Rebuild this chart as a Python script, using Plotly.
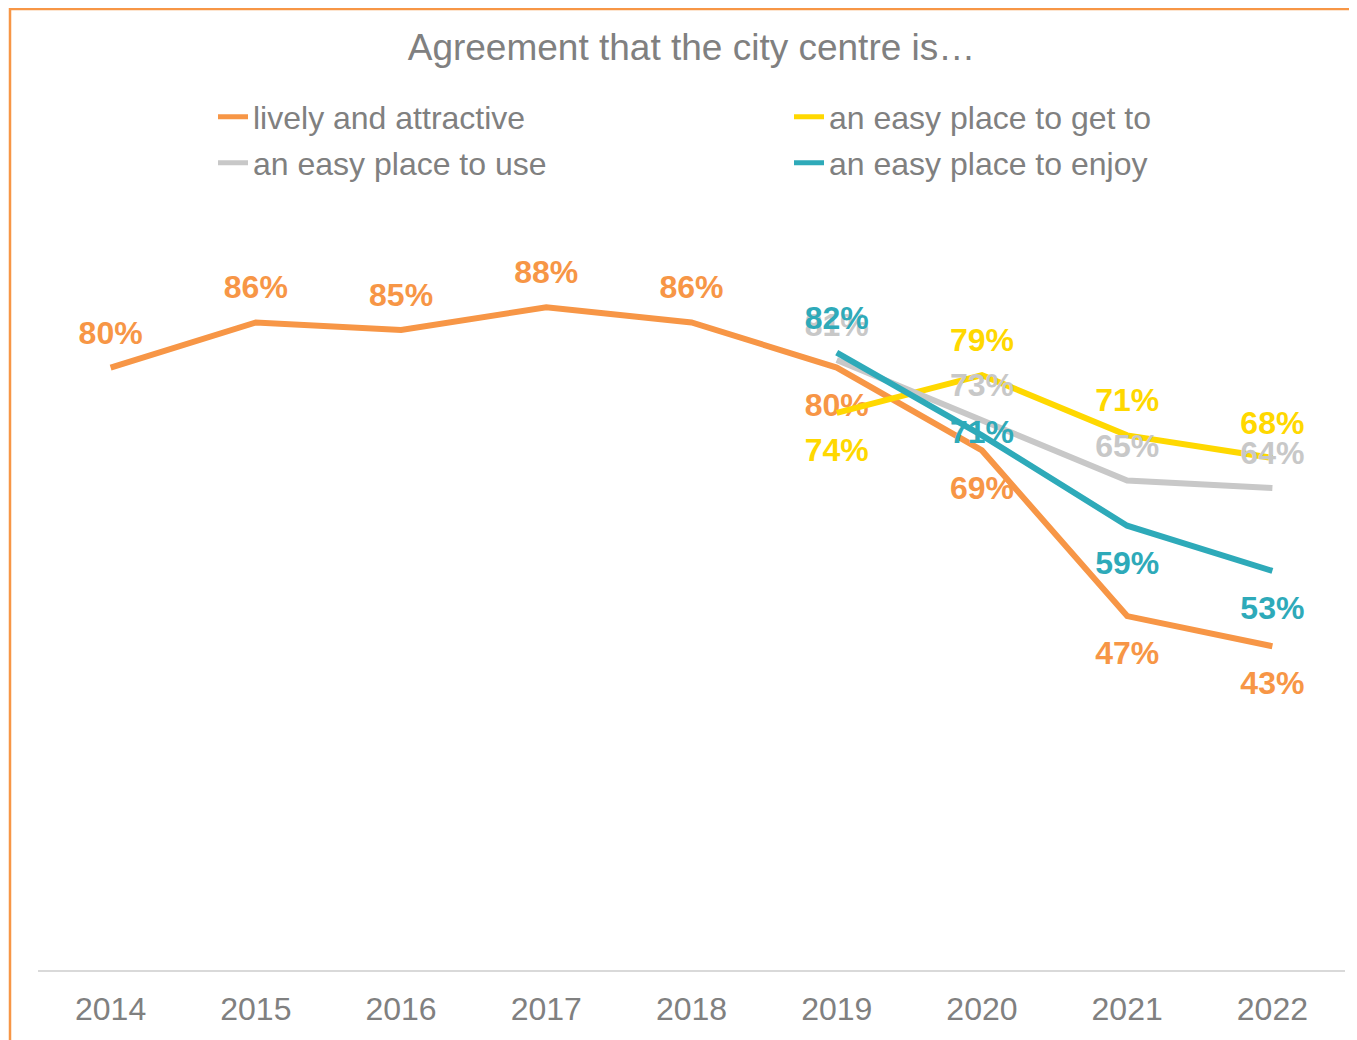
import plotly.graph_objects as go

years = ["2014", "2015", "2016", "2017", "2018", "2019", "2020", "2021", "2022"]
lively = [80, 86, 85, 88, 86, 80, 69, 47, 43]
get_to = [None, None, None, None, None, 74, 79, 71, 68]
use = [None, None, None, None, None, 81, 73, 65, 64]
enjoy = [None, None, None, None, None, 82, 71, 59, 53]

names = ["lively and attractive", "an easy place to get to", "an easy place to use", "an easy place to enjoy"]
colors = ["#F79646", "#FFD800", "#C8C8C8", "#2EAAB9"]

# label placement (style)
T, B, M = "top center", "bottom center", "middle center"
pos_lively = [T, T, T, T, T, B, B, B, B]
pos_get = [T] * 5 + [B, T, T, T]
pos_use = [T] * 9
pos_enjoy = [T] * 5 + [T, M, B, B]

FONT = "Liberation Sans, Arial, sans-serif"
GRAY = "#808080"

# page body has an 8px margin; figure coordinates below are page px - 8
W, H = 1349, 1032
L, R, TOP, BOT = 30, 12, 209, 70
PW, PH = W - L - R, H - TOP - BOT


def py(fig_y):
    return (H - BOT - fig_y) / PH


def px(fig_x):
    return (fig_x - L) / PW


# invisible marker sizes control the label gap from the line
GAP = {T: 24, B: 37, M: 10}

fig = go.Figure()
series = [lively, get_to, use, enjoy]
positions = [pos_lively, pos_get, pos_use, pos_enjoy]
legends = ["legend", "legend2", "legend3", "legend4"]
for vals, name, col, pos, lg in zip(series, names, colors, positions, legends):
    fig.add_trace(go.Scatter(
        x=years, y=vals, name=name, mode="lines+markers+text",
        line=dict(color=col, width=6),
        marker=dict(size=[GAP[p] for p in pos], color="rgba(0,0,0,0)", line=dict(width=0)),
        text=[f"{v}%" if v is not None else "" for v in vals],
        textposition=pos,
        textfont=dict(family=FONT, size=32, color=col, weight="bold"),
        legend=lg, cliponaxis=False, hoverinfo="x+y+name",
    ))

leg_common = dict(orientation="h", xanchor="left", yanchor="middle",
                  font=dict(family=FONT, size=32, color=GRAY), bgcolor="rgba(0,0,0,0)",
                  itemsizing="constant")
col1, col2 = px(253 - 8 - 40), px(829 - 8 - 40)
row1, row2 = py(117 - 8), py(163 - 8)

fig.update_layout(
    width=W, height=H,
    margin=dict(l=L, r=R, t=TOP, b=BOT),
    paper_bgcolor="white", plot_bgcolor="white",
    title=dict(text="Agreement that the city centre is…", x=0.5, xref="paper",
               xanchor="center", y=1 - 39 / H, yanchor="middle",
               font=dict(family=FONT, size=37, color=GRAY)),
    showlegend=True,
    legend=dict(x=col1, y=row1, **leg_common),
    legend2=dict(x=col2, y=row1, **leg_common),
    legend3=dict(x=col1, y=row2, **leg_common),
    legend4=dict(x=col2, y=row2, **leg_common),
    xaxis=dict(type="category", range=[-0.5, len(years) - 0.5], autorange=False,
               showgrid=False, showline=True, linecolor="#D9D9D9",
               linewidth=1.5, ticks="", tickfont=dict(family=FONT, size=32, color=GRAY),
               ticklabelstandoff=10, zeroline=False, fixedrange=True),
    yaxis=dict(range=[0, 100], showgrid=False, showticklabels=False, zeroline=False,
               showline=False, fixedrange=True),
    shapes=[dict(type="rect", xref="paper", yref="paper",
                 x0=px(2), x1=1.2, y0=-0.3, y1=py(1),
                 line=dict(color="#F79646", width=2.5), fillcolor="rgba(0,0,0,0)", layer="below")],
)

fig.write_html("out.html")
